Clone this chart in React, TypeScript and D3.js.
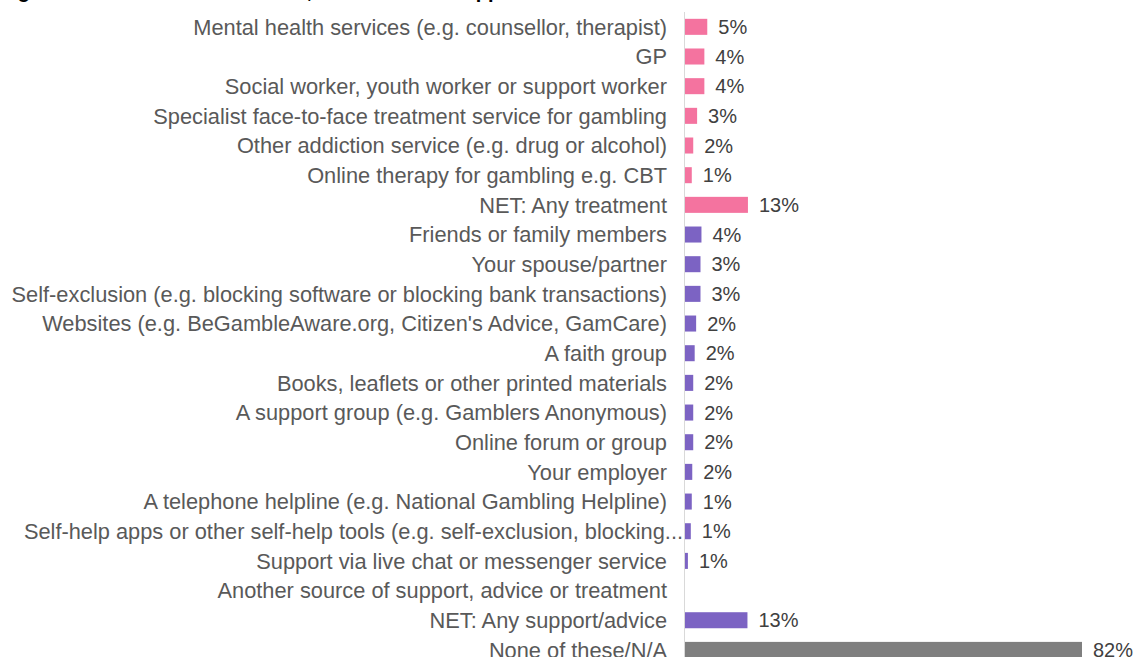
import React, { useEffect, useRef } from 'react';
import * as d3 from 'd3';

const categories = [
  'Mental health services (e.g. counsellor, therapist)',
  'GP',
  'Social worker, youth worker or support worker',
  'Specialist face-to-face treatment service for gambling',
  'Other addiction service (e.g. drug or alcohol)',
  'Online therapy for gambling e.g. CBT',
  'NET: Any treatment',
  'Friends or family members',
  'Your spouse/partner',
  'Self-exclusion (e.g. blocking software or blocking bank transactions)',
  "Websites (e.g. BeGambleAware.org, Citizen's Advice, GamCare)",
  'A faith group',
  'Books, leaflets or other printed materials',
  'A support group (e.g. Gamblers Anonymous)',
  'Online forum or group',
  'Your employer',
  'A telephone helpline (e.g.  National Gambling Helpline)',
  'Self-help apps or other self-help tools (e.g. self-exclusion, blocking...',
  'Support via live chat or messenger service',
  'Another source of support, advice or treatment',
  'NET: Any support/advice',
  'None of these/N/A',
];

const values = [4.6, 4.0, 4.0, 2.5, 1.7, 1.4, 13.0, 3.4, 3.2, 3.2, 2.3, 2.0, 1.7, 1.7, 1.7, 1.5, 1.4, 1.2, 0.6, 0, 12.9, 82];
const valueLabels = ['5%', '4%', '4%', '3%', '2%', '1%', '13%', '4%', '3%', '3%', '2%', '2%', '2%', '2%', '2%', '2%', '1%', '1%', '1%', '', '13%', '82%'];
const groups = ['treatment', 'treatment', 'treatment', 'treatment', 'treatment', 'treatment', 'treatment',
  'support', 'support', 'support', 'support', 'support', 'support', 'support', 'support', 'support',
  'support', 'support', 'support', 'support', 'support', 'none'];

const title = 'Figure 3.2: Sources of treatment, advice and/or support used';

const W = 1139;
const H = 657;
const FONT = 'Liberation Sans, Arial, sans-serif';

export default function App() {
  const svgRef = useRef<SVGSVGElement>(null);

  useEffect(() => {
    if (!svgRef.current) return;
    const svg = d3.select(svgRef.current);
    svg.selectAll('*').remove();

    const color = d3.scaleOrdinal<string, string>()
      .domain(['treatment', 'support', 'none'])
      .range(['#f4739f', '#7c63c3', '#7f7f7f']);

    const y = d3.scaleBand<number>()
      .domain(d3.range(categories.length))
      .range([12, 12 + categories.length * 29.67])
      .paddingInner(0.46)
      .paddingOuter(0.23);

    const x = d3.scaleLinear().domain([0, 82]).range([685, 1082]);

    // title, mostly above the visible area as in the source image
    svg.append('text')
      .attr('x', 0)
      .attr('y', -2)
      .attr('font-family', FONT)
      .attr('font-weight', 'bold')
      .attr('font-size', 20)
      .attr('fill', '#000')
      .text(title);

    const rows = svg.append('g');
    categories.forEach((c, i) => {
      const cy = (y(i) ?? 0) + y.bandwidth() / 2;
      // truncated labels run on up to the axis
      const truncated = c.endsWith('...');
      rows.append('text')
        .attr('x', truncated ? 683 : 667)
        .attr('y', cy)
        .attr('dy', '0.36em')
        .attr('text-anchor', 'end')
        .attr('font-family', FONT)
        .attr('font-size', 21.8)
        .attr('fill', '#595959')
        .text(c);

      if (values[i] > 0) {
        rows.append('rect')
          .attr('x', x(0))
          .attr('y', y(i) ?? 0)
          .attr('width', x(values[i]) - x(0))
          .attr('height', y.bandwidth())
          .attr('fill', color(groups[i]));
      }

      if (valueLabels[i]) {
        rows.append('text')
          .attr('x', x(values[i]) + 11)
          .attr('y', cy)
          .attr('dy', '0.36em')
          .attr('font-family', FONT)
          .attr('font-size', 20)
          .attr('fill', '#404040')
          .text(valueLabels[i]);
      }
    });

    svg.append('line')
      .attr('x1', 684.5)
      .attr('x2', 684.5)
      .attr('y1', 12)
      .attr('y2', H)
      .attr('stroke', '#d9d9d9')
      .attr('stroke-width', 1);
  }, []);

  return (
    <svg
      ref={svgRef}
      width={W}
      height={H}
      style={{ position: 'absolute', left: 0, top: 0, background: '#fff' }}
    />
  );
}
